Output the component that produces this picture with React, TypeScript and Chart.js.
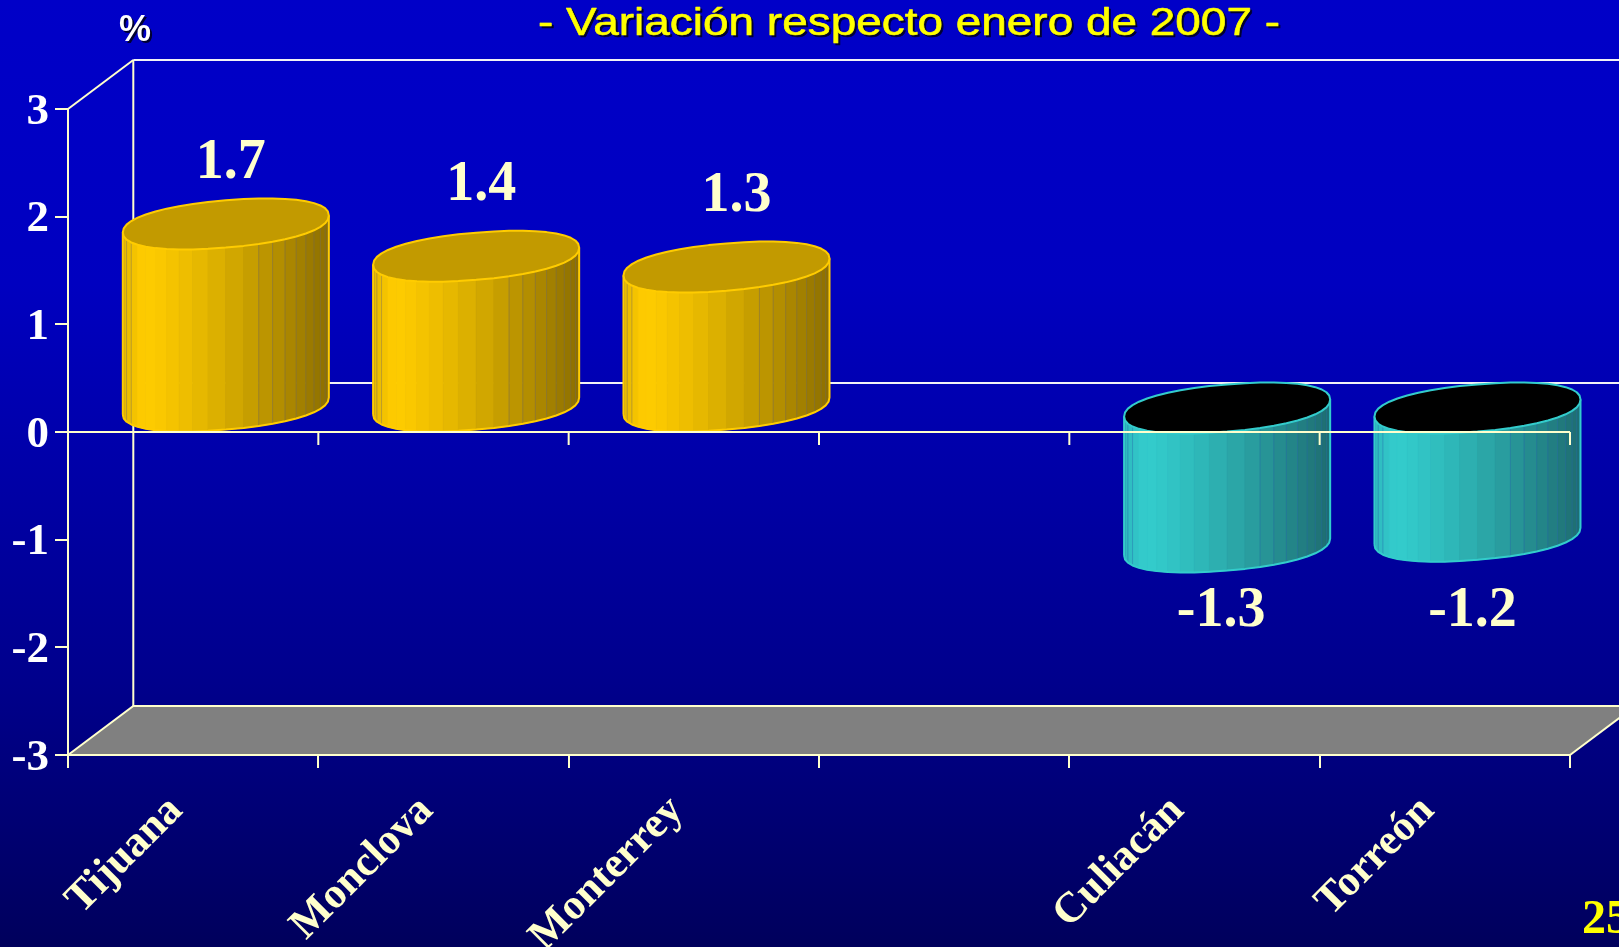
import React, { useEffect, useRef } from "react";
import { Chart, registerables } from "chart.js";

Chart.register(...registerables);

const categories = ["Tijuana", "Monclova", "Monterrey", "", "Culiacán", "Torreón"];
const values = [1.7, 1.4, 1.3, null, -1.3, -1.2];
const valueLabels = ["1.7", "1.4", "1.3", "", "-1.3", "-1.2"];
const yMin = -3;
const yMax = 3;
const titleText = "- Variación respecto enero de 2007 -";
const unitText = "%";
const pageNumber = "25";

const CREAM = "#FFFFCC";
const WALL = "#F2F2F6";
const DX = 65.3;
const DY = -49;
const ELL_B = 23.6;
const ELL_S = 8.5;
const FACETS = 22;
const ROUND = 0.9;
// hand-placed label nudges in the slide (dx, dy from the default anchor)
const labelNudge = [
  [5, -71], [5, -81], [10, -81], [0, 0], [-6, 54], [-5, 65],
];

const rgb = (a: number[], b: number[], f: number) =>
  `rgb(${a.map((v, i) => Math.round(v + (b[i] - v) * f)).join(",")})`;

function shade(light: number[], dark: number[], edge: number[], f: number) {
  if (f < 0.1) return rgb(edge, light, f / 0.1);
  return rgb(light, dark, Math.pow((f - 0.1) / 0.9, 1.3));
}

const spow = (v: number) => Math.sign(v) * Math.pow(Math.abs(v), ROUND);

function cylinder(ctx: CanvasRenderingContext2D, el: any, negative: boolean) {
  const a = el.width / 2;
  const cx = el.x + DX / 2;
  const hi = Math.min(el.y, el.base);
  const h = Math.max(el.y, el.base) - hi;
  const cy = hi - 25;
  const pt = (t: number) => {
    const c = spow(Math.cos(t));
    const s = spow(Math.sin(t));
    return [cx + a * c, cy + ELL_B * s - ELL_S * c];
  };
  const light = negative ? [51, 204, 204] : [255, 204, 0];
  const dark = negative ? [30, 108, 112] : [140, 110, 0];
  const edge = negative ? [46, 184, 190] : [230, 184, 0];
  const line = negative ? "#33CCCC" : "#FFCC00";

  for (let i = 0; i < FACETS; i++) {
    const t0 = Math.PI - (i / FACETS) * Math.PI;
    const t1 = Math.PI - ((i + 1) / FACETS) * Math.PI;
    const p0 = pt(t0);
    const p1 = pt(t1);
    const f = ((p0[0] + p1[0]) / 2 - (cx - a)) / (2 * a);
    const col = shade(light, dark, edge, f);
    ctx.fillStyle = col;
    ctx.strokeStyle = col;
    ctx.lineWidth = 1;
    ctx.beginPath();
    ctx.moveTo(p0[0], p0[1]);
    ctx.lineTo(p1[0], p1[1]);
    ctx.lineTo(p1[0], p1[1] + h);
    ctx.lineTo(p0[0], p0[1] + h);
    ctx.closePath();
    ctx.fill();
    ctx.stroke();
    if (i > 0 && (i < 4 || i > 12)) {
      ctx.strokeStyle = negative ? "rgba(40,110,170,0.45)" : "rgba(120,110,90,0.45)";
      ctx.beginPath();
      ctx.moveTo(p0[0], p0[1]);
      ctx.lineTo(p0[0], p0[1] + h);
      ctx.stroke();
    }
  }

  ctx.strokeStyle = line;
  ctx.lineWidth = 2;
  ctx.lineJoin = "round";
  ctx.beginPath();
  for (let i = 0; i <= FACETS; i++) {
    const p = pt(Math.PI - (i / FACETS) * Math.PI);
    if (i === 0) ctx.moveTo(p[0], p[1] + h);
    else ctx.lineTo(p[0], p[1] + h);
  }
  const r = pt(0);
  ctx.lineTo(r[0], r[1]);
  const l = pt(Math.PI);
  ctx.moveTo(l[0], l[1]);
  ctx.lineTo(l[0], l[1] + h);
  ctx.stroke();

  ctx.beginPath();
  for (let i = 0; i < FACETS * 2; i++) {
    const p = pt((i / FACETS) * Math.PI);
    if (i === 0) ctx.moveTo(p[0], p[1]);
    else ctx.lineTo(p[0], p[1]);
  }
  ctx.closePath();
  ctx.fillStyle = negative ? "#000000" : "#C29A00";
  ctx.fill();
  ctx.stroke();
}

const slidePlugin = {
  id: "slide3d",
  beforeDraw(chart: any) {
    const { ctx, width, height } = chart;
    const g = ctx.createLinearGradient(0, 0, 0, height);
    g.addColorStop(0, "#0000C8");
    g.addColorStop(0.3, "#0000C0");
    g.addColorStop(0.72, "#00008C");
    g.addColorStop(1, "#00005C");
    ctx.save();
    ctx.fillStyle = g;
    ctx.fillRect(0, 0, width, height);
    ctx.restore();
  },
  beforeDatasetsDraw(chart: any) {
    const { ctx, width, scales } = chart;
    const x = scales.x;
    const y = scales.y;
    const L = x.left;
    const R = x.right;
    const top = y.getPixelForValue(yMax);
    const bottom = y.getPixelForValue(yMin);
    const zero = y.getPixelForValue(0);
    ctx.save();
    ctx.lineWidth = 2;
    ctx.fillStyle = "#808080";
    ctx.beginPath();
    ctx.moveTo(L, bottom);
    ctx.lineTo(L + DX, bottom + DY);
    ctx.lineTo(width + 20, bottom + DY);
    ctx.lineTo(R + DX, bottom + DY);
    ctx.lineTo(R, bottom);
    ctx.closePath();
    ctx.fill();

    const seg = (c: string, pts: number[][]) => {
      ctx.strokeStyle = c;
      ctx.beginPath();
      pts.forEach((p, i) => (i ? ctx.lineTo(p[0], p[1]) : ctx.moveTo(p[0], p[1])));
      ctx.stroke();
    };
    seg(CREAM, [[L, bottom], [R, bottom]]);
    seg(CREAM, [[L, bottom], [L + DX, bottom + DY], [width, bottom + DY]]);
    seg(CREAM, [[R, bottom], [R + DX, bottom + DY]]);
    seg(CREAM, [[L, top], [L + DX, top + DY]]);
    seg(CREAM, [[L + DX, bottom + DY], [L + DX, top + DY]]);
    seg(WALL, [[L + DX, top + DY], [width, top + DY]]);
    seg(WALL, [[L + DX, zero + DY], [width, zero + DY]]);
    ctx.restore();
  },
  afterDatasetsDraw(chart: any) {
    const { ctx, width, scales } = chart;
    const x = scales.x;
    const y = scales.y;
    const zero = y.getPixelForValue(0);
    const meta = chart.getDatasetMeta(0);
    ctx.save();
    meta.data.forEach((el: any, i: number) => {
      if (values[i] === null) return;
      cylinder(ctx, el, (values[i] as number) < 0);
    });

    // front zero plane and its category ticks
    ctx.lineWidth = 2;
    ctx.strokeStyle = CREAM;
    ctx.beginPath();
    ctx.moveTo(x.left - 13, zero);
    ctx.lineTo(x.right, zero);
    const slot = (x.right - x.left) / categories.length;
    categories.forEach((_, i) => {
      const px = x.getPixelForValue(i) + slot / 2;
      ctx.moveTo(px, zero);
      ctx.lineTo(px, zero + 13);
    });
    ctx.stroke();

    // value labels
    ctx.fillStyle = CREAM;
    ctx.font = "bold 56px 'Liberation Serif'";
    ctx.textAlign = "center";
    ctx.textBaseline = "alphabetic";
    meta.data.forEach((el: any, i: number) => {
      if (values[i] === null) return;
      ctx.fillText(valueLabels[i], el.x + DX / 2 + labelNudge[i][0], el.y + labelNudge[i][1]);
    });

    // title, widened like the slide's stretched title
    ctx.font = "39px 'Liberation Sans'";
    ctx.textAlign = "left";
    const natural = ctx.measureText(titleText).width;
    const sx = 742 / natural;
    const drawTitle = (color: string, ox: number, oy: number) => {
      ctx.save();
      ctx.translate(538 + ox, 35 + oy);
      ctx.scale(sx, 1);
      ctx.fillStyle = color;
      ctx.strokeStyle = color;
      ctx.lineWidth = 0.6;
      ctx.fillText(titleText, 0, 0);
      ctx.strokeText(titleText, 0, 0);
      ctx.restore();
    };
    drawTitle("#000030", 2, 2);
    drawTitle("#FFFF00", 0, 0);

    ctx.font = "bold 36px 'Liberation Sans'";
    ctx.textAlign = "center";
    ctx.fillStyle = "#000030";
    ctx.fillText(unitText, 137, 43);
    ctx.fillStyle = "#FFFFFF";
    ctx.fillText(unitText, 135, 41);

    ctx.font = "bold 48px 'Liberation Serif'";
    ctx.textAlign = "left";
    ctx.fillStyle = "#FFFF00";
    ctx.fillText(pageNumber, width - 37, 933);
    ctx.restore();
  },
};

export default function App() {
  const ref = useRef<HTMLCanvasElement>(null);
  useEffect(() => {
    document.body.style.margin = "0";
    document.body.style.overflow = "hidden";
    const chart = new Chart(ref.current as HTMLCanvasElement, {
      type: "bar",
      data: {
        labels: categories,
        datasets: [
          {
            label: "Variación",
            data: values,
            backgroundColor: "rgba(0,0,0,0)",
            borderWidth: 0,
            barPercentage: 0.823,
            categoryPercentage: 1,
          },
        ],
      },
      options: {
        responsive: false,
        animation: false,
        layout: { padding: { top: 109, right: 49, left: 0, bottom: 0 } },
        plugins: { legend: { display: false }, tooltip: { enabled: false }, title: { display: false } },
        scales: {
          x: {
            afterFit: (s: any) => {
              s.height = 192;
            },
            border: { color: CREAM, width: 2 },
            grid: { drawOnChartArea: false, color: CREAM, lineWidth: 2, tickLength: 13 },
            ticks: {
              autoSkip: false,
              maxRotation: 45,
              minRotation: 45,
              color: CREAM,
              padding: 18,
              labelOffset: -17,
              font: { family: "'Liberation Serif'", weight: "bold", size: 43 },
            },
          },
          y: {
            min: yMin,
            max: yMax,
            afterFit: (s: any) => {
              s.width = 68;
            },
            border: { color: CREAM, width: 2 },
            grid: { drawOnChartArea: false, color: CREAM, lineWidth: 2, tickLength: 13 },
            ticks: {
              stepSize: 1,
              color: "#FFFFFF",
              padding: 6,
              labelOffset: 3,
              font: { family: "'Liberation Serif'", weight: "bold", size: 45 },
            },
          },
        },
      },
      plugins: [slidePlugin],
    } as any);
    return () => chart.destroy();
  }, []);
  return <canvas ref={ref} width={1619} height={947} style={{ display: "block", width: 1619, height: 947 }} />;
}
